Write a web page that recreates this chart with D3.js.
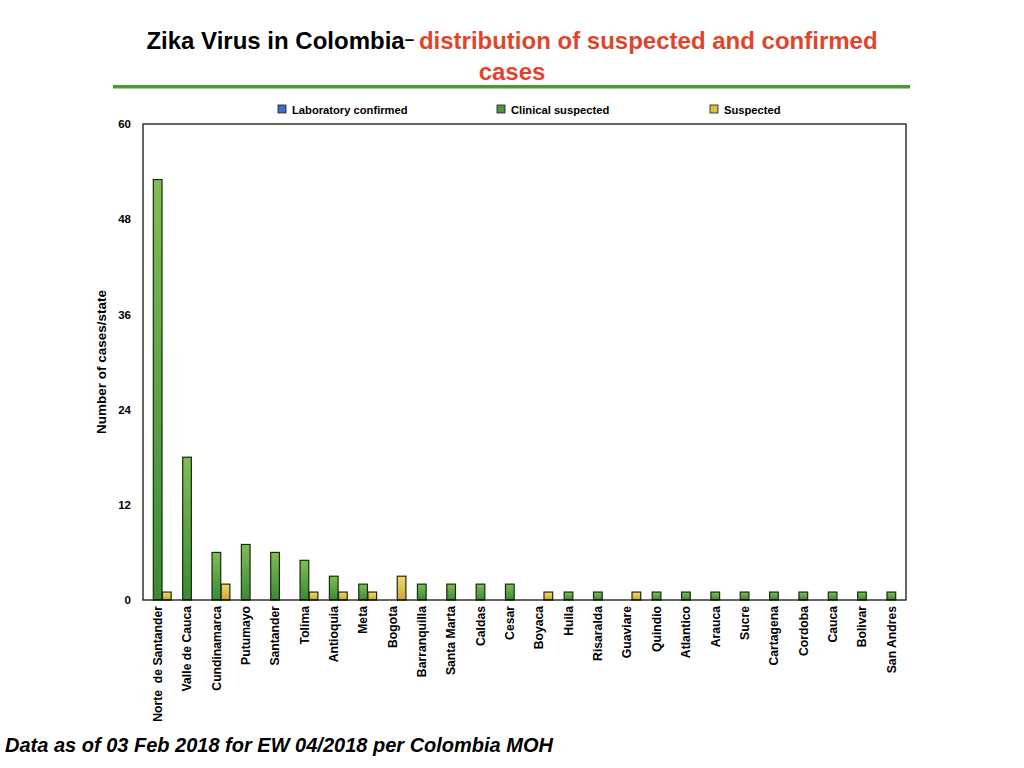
<!DOCTYPE html>
<html><head><meta charset="utf-8">
<script src="https://cdn.jsdelivr.net/npm/d3@7/dist/d3.min.js"></script>
<style>body{margin:0;background:#fff;} svg{display:block;font-family:"Liberation Sans",Arial,Helvetica,sans-serif;}</style>
</head><body>
<svg id="c" width="1024" height="768"></svg>
<script>
const categories = ["Norte  de Santander","Valle de Cauca","Cundinamarca","Putumayo","Santander","Tolima","Antioquia","Meta","Bogota","Barranquilla","Santa Marta","Caldas","Cesar","Boyaca","Huila","Risaralda","Guaviare","Quindio","Atlantico","Arauca","Sucre","Cartagena","Cordoba","Cauca","Bolivar","San Andres"];
const seriesNames = ["Laboratory confirmed","Clinical suspected","Suspected"];
const labConfirmed = [0,0,0,0,0,0,0,0,0,0,0,0,0,0,0,0,0,0,0,0,0,0,0,0,0,0];
const clinicalSuspected = [53,18,6,7,6,5,3,2,0,2,2,2,2,0,1,1,0,1,1,1,1,1,1,1,1,1];
const suspected = [1,0,2,0,0,1,1,1,3,0,0,0,0,1,0,0,1,0,0,0,0,0,0,0,0,0];
const yTicks = [0,12,24,36,48,60];

const seriesValues = [labConfirmed, clinicalSuspected, suspected];
const svg = d3.select("#c");
const L = 143, R = 906, T = 124, B = 600;

const defs = svg.append("defs");
const grads = [["gBlue","#6a9be0","#2f63b8"],["gGreen","#80bd55","#3a8a34"],["gYellow","#f2dc6a","#c9a52e"]];
grads.forEach(([id,c1,c2])=>{
  const g = defs.append("linearGradient").attr("id",id).attr("x1",0).attr("y1",0).attr("x2",0).attr("y2",1);
  g.append("stop").attr("offset","0%").attr("stop-color",c1);
  g.append("stop").attr("offset","100%").attr("stop-color",c2);
});
const fills = ["url(#gBlue)","url(#gGreen)","url(#gYellow)"];
const legendColors = ["#3a72cc","#4a9a3c","#dcbc44"];

// Title
const title = svg.append("text").attr("x",512).attr("y",49).attr("text-anchor","middle")
  .attr("font-size",24).attr("font-weight","bold");
title.append("tspan").attr("fill","#000").text("Zika Virus in Colombia");
title.append("tspan").attr("fill","#000").attr("font-size",17).attr("dy",-4).text("–  ");
title.append("tspan").attr("fill","#e0452c").attr("dy",4).text("distribution of suspected and confirmed");
svg.append("text").attr("x",512).attr("y",80).attr("text-anchor","middle")
  .attr("font-size",24).attr("font-weight","bold").attr("fill","#e0452c").text("cases");
svg.append("rect").attr("x",113).attr("y",85).attr("width",797).attr("height",3.5).attr("fill","#4a9a35");

// Scales
const x0 = d3.scaleBand().domain(categories).range([L,R]).paddingInner(0.08).paddingOuter(0.04);
const x1 = d3.scaleBand().domain(seriesNames).range([0,x0.bandwidth()]).paddingInner(0.05);
const y = d3.scaleLinear().domain([0,60]).range([B,T]);

// Bars
const groups = svg.append("g").selectAll("g").data(categories).join("g")
  .attr("transform",d=>`translate(${x0(d)},0)`);
groups.selectAll("rect").data((d,i)=>seriesNames.map((s,j)=>({s,j,v:seriesValues[j][i]})).filter(e=>e.v>0))
  .join("rect")
  .attr("x",e=>x1(e.s)).attr("width",x1.bandwidth())
  .attr("y",e=>y(e.v)).attr("height",e=>y(0)-y(e.v))
  .attr("fill",e=>fills[e.j]).attr("stroke","#1a2a10").attr("stroke-width",1.2);

// Frame
svg.append("rect").attr("x",L).attr("y",T).attr("width",R-L).attr("height",B-T)
  .attr("fill","none").attr("stroke","#000").attr("stroke-width",1.2);

// Y axis
const yAxis = svg.append("g").attr("transform",`translate(${L},0)`)
  .call(d3.axisLeft(y).tickValues(yTicks).tickSize(0).tickPadding(12));
yAxis.select(".domain").remove();
yAxis.selectAll("text").attr("font-size",11.5).attr("font-weight","bold").attr("font-family","Liberation Sans, Arial, sans-serif").attr("fill","#000");

// X axis labels
const xAxis = svg.append("g").attr("transform",`translate(0,${B})`)
  .call(d3.axisBottom(x0).tickSize(0).tickPadding(0));
xAxis.select(".domain").remove();
xAxis.selectAll("text")
  .attr("font-size",12.2).attr("font-weight","bold").attr("font-family","Liberation Sans, Arial, sans-serif").attr("fill","#000")
  .attr("text-anchor","end").attr("dy","0.35em")
  .attr("transform","translate(0,6) rotate(-90)")
  .attr("x",0).attr("y",0)
  .style("white-space","pre");

// Y label
svg.append("text").attr("transform","translate(106,362) rotate(-90)").attr("text-anchor","middle")
  .attr("font-size",13.5).attr("font-weight","bold").text("Number of cases/state");

// Legend
const legX = [278,497,710];
seriesNames.forEach((s,i)=>{
  svg.append("rect").attr("x",legX[i]).attr("y",105).attr("width",8).attr("height",8)
    .attr("fill",legendColors[i]).attr("stroke","#1a1a1a").attr("stroke-width",0.8);
  svg.append("text").attr("x",legX[i]+14).attr("y",113.5).attr("font-size",11.2).attr("font-weight","bold").text(s);
});

// Footer
svg.append("text").attr("x",5).attr("y",752).attr("font-size",20).attr("font-weight","bold")
  .attr("font-style","italic").text("Data as of 03 Feb 2018 for EW 04/2018 per Colombia MOH");
</script>
</body></html>
